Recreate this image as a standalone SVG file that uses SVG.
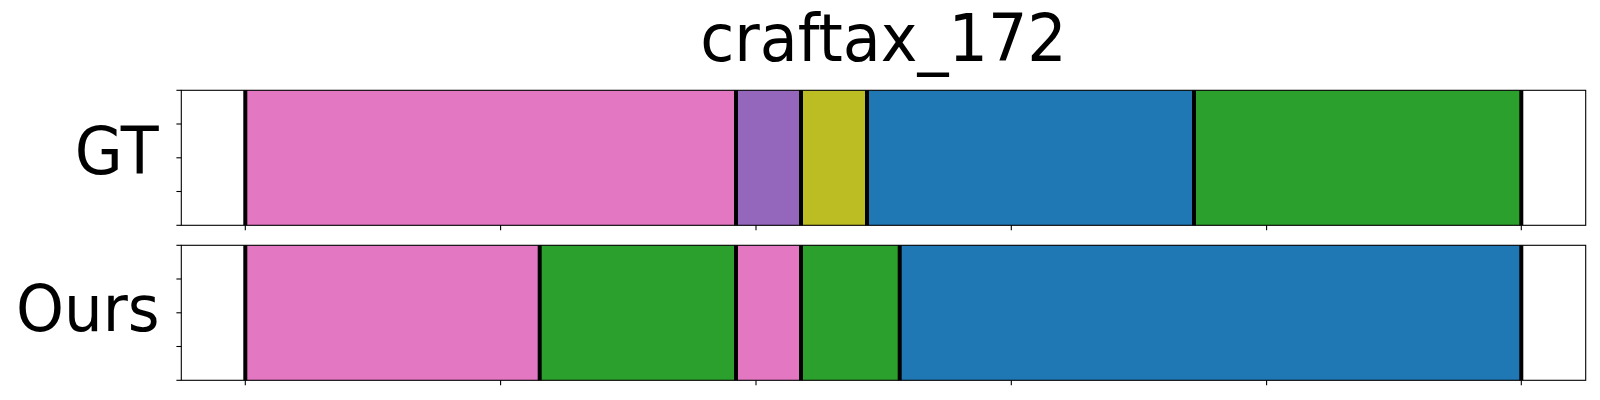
<svg xmlns="http://www.w3.org/2000/svg" width="1600" height="400" viewBox="0 0 1600 400">
<style>
.t{font-family:"DejaVu Sans",sans-serif;font-size:62px;fill:#000}
.t2{font-family:"DejaVu Sans",sans-serif;font-size:61px;fill:#000}
.frame{fill:none;stroke:#000;stroke-width:1.1}
.tick{stroke:#000;stroke-width:1.1}
.sep{stroke:#000;stroke-width:4}
.pink{fill:#e377c2}.purple{fill:#9467bd}.olive{fill:#bcbd22}.blue{fill:#1f77b4}.green{fill:#2ca02c}
</style>
<rect width="1600" height="400" fill="#fff"/>
<text class="t" x="883.5" y="58.1" text-anchor="middle" transform="scale(1,1.05)">craftax_172</text>
<g id="gt">
<text class="t" x="158.5" y="166.2" text-anchor="end" transform="scale(1,1.05)">GT</text>
<rect class="pink" x="245" y="90.3" width="491" height="135"/>
<rect class="purple" x="736" y="90.3" width="65" height="135"/>
<rect class="olive" x="801" y="90.3" width="66" height="135"/>
<rect class="blue" x="867" y="90.3" width="327" height="135"/>
<rect class="green" x="1194" y="90.3" width="327.3" height="135"/>
<g class="sep">
<line x1="245.3" y1="90.3" x2="245.3" y2="225.3"/>
<line x1="736" y1="90.3" x2="736" y2="225.3"/>
<line x1="801" y1="90.3" x2="801" y2="225.3"/>
<line x1="867" y1="90.3" x2="867" y2="225.3"/>
<line x1="1194" y1="90.3" x2="1194" y2="225.3"/>
<line x1="1521.3" y1="90.3" x2="1521.3" y2="225.3"/>
</g>
<rect class="frame" x="181.3" y="90.3" width="1404.4" height="135"/>
<g class="tick">
<line x1="176.4" y1="90.3" x2="181.3" y2="90.3"/>
<line x1="176.4" y1="124" x2="181.3" y2="124"/>
<line x1="176.4" y1="157.8" x2="181.3" y2="157.8"/>
<line x1="176.4" y1="191.5" x2="181.3" y2="191.5"/>
<line x1="176.4" y1="225.3" x2="181.3" y2="225.3"/>
<line x1="245.3" y1="225.3" x2="245.3" y2="230.2"/>
<line x1="500.6" y1="225.3" x2="500.6" y2="230.2"/>
<line x1="756" y1="225.3" x2="756" y2="230.2"/>
<line x1="1011.3" y1="225.3" x2="1011.3" y2="230.2"/>
<line x1="1266.6" y1="225.3" x2="1266.6" y2="230.2"/>
<line x1="1521.3" y1="225.3" x2="1521.3" y2="230.2"/>
</g>
</g>
<g id="ours">
<text class="t2" x="159.5" y="312.7" text-anchor="end" transform="scale(1,1.06)">Ours</text>
<rect class="pink" x="245" y="245.3" width="294.7" height="135"/>
<rect class="green" x="539.7" y="245.3" width="196.3" height="135"/>
<rect class="pink" x="736" y="245.3" width="65" height="135"/>
<rect class="green" x="801" y="245.3" width="98.7" height="135"/>
<rect class="blue" x="899.7" y="245.3" width="621.6" height="135"/>
<g class="sep">
<line x1="245.3" y1="245.3" x2="245.3" y2="380.3"/>
<line x1="539.7" y1="245.3" x2="539.7" y2="380.3"/>
<line x1="736" y1="245.3" x2="736" y2="380.3"/>
<line x1="801" y1="245.3" x2="801" y2="380.3"/>
<line x1="899.7" y1="245.3" x2="899.7" y2="380.3"/>
<line x1="1521.3" y1="245.3" x2="1521.3" y2="380.3"/>
</g>
<rect class="frame" x="181.3" y="245.3" width="1404.4" height="135"/>
<g class="tick">
<line x1="176.4" y1="245.3" x2="181.3" y2="245.3"/>
<line x1="176.4" y1="279" x2="181.3" y2="279"/>
<line x1="176.4" y1="312.8" x2="181.3" y2="312.8"/>
<line x1="176.4" y1="346.5" x2="181.3" y2="346.5"/>
<line x1="176.4" y1="380.3" x2="181.3" y2="380.3"/>
<line x1="245.3" y1="380.3" x2="245.3" y2="385.2"/>
<line x1="500.6" y1="380.3" x2="500.6" y2="385.2"/>
<line x1="756" y1="380.3" x2="756" y2="385.2"/>
<line x1="1011.3" y1="380.3" x2="1011.3" y2="385.2"/>
<line x1="1266.6" y1="380.3" x2="1266.6" y2="385.2"/>
<line x1="1521.3" y1="380.3" x2="1521.3" y2="385.2"/>
</g>
</g>
</svg>
